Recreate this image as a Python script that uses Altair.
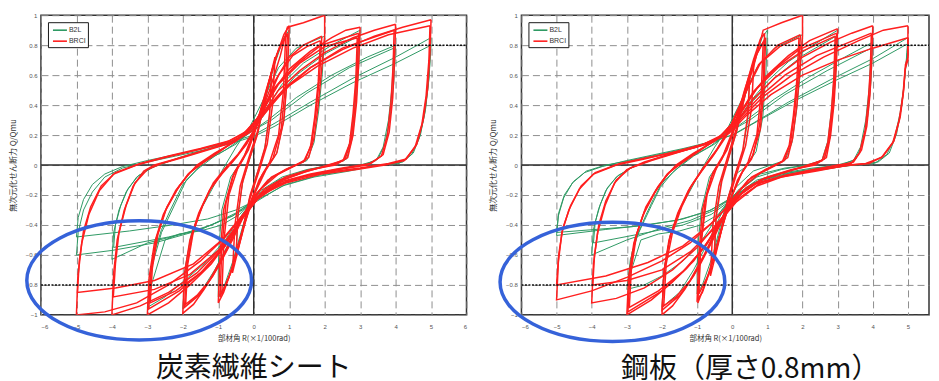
import altair as alt
import pandas as pd

GREEN = "#2f9a64"
RED = "#ff1f1f"
BLUE = "#3562d9"

SERIES = ["B2L", "BRCI"]
CAPTIONS = ["炭素繊維シート", "鋼板（厚さ0.8mm）"]
X_TICKS_LEFT = [-6, -5, -4, -3, -2, -1, 0, 1, 2, 3, 4, 5, 6]
X_TICKS_RIGHT = [-6, -5, -4, -3, -2, -1, 0, 1, 2, 3, 4, 5]
Y_TICKS = [1, 0.8, 0.6, 0.4, 0.2, 0, -0.2, -0.4, -0.6, -0.8, -1]
LIMIT_X = [0, -6]
LIMIT_X2 = [6, 0]
LIMIT_Y = [0.8, -0.8]
ELLIPSE_LEFT = (-3.23, -0.77)
ELLIPSE_RIGHT = (-3.41, -0.78)

# ---------------- left panel (carbon fibre sheet) ----------------
LEFT_B2L = [
    [(0.5,0.6),(0.44,0.32),(0.3,0.1),(0.1,-0.05),(-0.12,-0.22),(-0.32,-0.43),(-0.5,-0.6),(-0.45,-0.33),(-0.3,-0.1),(-0.1,0.05),(0.12,0.22),(0.32,0.43),(0.5,0.6)],
    [(1.0,0.9),(0.95,0.6),(0.85,0.3),(0.65,0.08),(0.35,-0.03),(0.05,-0.17),(-0.3,-0.4),(-0.6,-0.65),(-0.85,-0.82),(-1.0,-0.88),(-1.0,-0.7),(-0.98,-0.55),(-0.9,-0.3),(-0.65,-0.08),(-0.3,0.04),(0.0,0.2),(0.3,0.43),(0.6,0.68),(0.85,0.85),(1.0,0.9)],
    [(2.0,0.86),(1.93,0.6),(1.83,0.36),(1.7,0.15),(1.5,0.03),(1.1,-0.01),(0.6,-0.07),(0.1,-0.18),(-0.3,-0.33),(-0.7,-0.52),(-1.1,-0.7),(-1.5,-0.85),(-2.0,-0.96),(-1.93,-0.68),(-1.75,-0.45),(-1.45,-0.28),(-1.15,-0.15),(-0.85,-0.02),(-0.5,0.12),(-0.1,0.26),(0.3,0.45),(0.7,0.65),(1.2,0.78),(2.0,0.86)],
    [(3.0,0.9),(2.96,0.65),(2.88,0.4),(2.78,0.18),(2.62,0.04),(2.2,0.0),(1.5,-0.03),(0.8,-0.08),(0.2,-0.17),(-0.3,-0.32),(-0.8,-0.5),(-1.4,-0.66),(-2.0,-0.78),(-2.5,-0.88),(-3.0,-0.95),(-2.9,-0.7),(-2.6,-0.45),(-2.3,-0.3),(-1.9,-0.1),(-1.4,0.02),(-0.8,0.1),(-0.2,0.2),(0.3,0.36),(0.8,0.54),(1.4,0.68),(2.2,0.8),(3.0,0.9)],
    [(2.95,0.86),(2.9,0.6),(2.82,0.36),(2.72,0.16),(2.55,0.03),(2.1,0.0),(1.4,-0.04),(0.7,-0.1),(0.1,-0.2),(-0.4,-0.33),(-0.9,-0.4),(-1.5,-0.44),(-2.1,-0.46),(-2.5,-0.5),(-2.95,-0.85),(-2.85,-0.62),(-2.6,-0.43),(-2.35,-0.3),(-2.0,-0.13),(-1.6,-0.03),(-1.1,0.06),(-0.5,0.14),(0.1,0.27),(0.6,0.44),(1.2,0.6),(2.0,0.74),(2.95,0.86)],
    [(4.0,0.8),(3.95,0.55),(3.85,0.32),(3.7,0.14),(3.5,0.04),(3.1,0.0),(2.3,-0.03),(1.5,-0.07),(0.7,-0.13),(0.1,-0.22),(-0.5,-0.32),(-1.2,-0.4),(-2.0,-0.46),(-3.0,-0.52),(-4.0,-0.63),(-3.95,-0.45),(-3.8,-0.3),(-3.6,-0.18),(-3.3,-0.08),(-2.9,-0.02),(-2.2,0.04),(-1.5,0.09),(-0.8,0.14),(-0.2,0.2),(0.4,0.3),(1.2,0.45),(2.2,0.6),(3.2,0.72),(4.0,0.8)],
    [(3.95,0.78),(3.9,0.52),(3.8,0.3),(3.65,0.12),(3.45,0.03),(3.0,0.0),(2.2,-0.04),(1.4,-0.08),(0.6,-0.14),(0.0,-0.24),(-0.6,-0.34),(-1.4,-0.42),(-2.4,-0.48),(-3.95,-0.55),(-3.9,-0.4),(-3.75,-0.27),(-3.55,-0.16),(-3.25,-0.07),(-2.8,-0.01),(-2.1,0.05),(-1.4,0.1),(-0.7,0.15),(-0.1,0.22),(0.5,0.3),(1.5,0.48),(2.7,0.65),(3.95,0.78)],
    [(5.0,0.85),(4.95,0.6),(4.85,0.38),(4.7,0.2),(4.5,0.08),(4.2,0.02),(3.6,0.0),(2.8,-0.03),(1.8,-0.07),(0.9,-0.13),(0.2,-0.22),(-0.5,-0.3),(-1.3,-0.36),(-2.3,-0.4),(-3.5,-0.44),(-5.0,-0.48),(-4.95,-0.35),(-4.8,-0.23),(-4.55,-0.13),(-4.2,-0.06),(-3.7,-0.01),(-3.0,0.03),(-2.2,0.07),(-1.4,0.11),(-0.7,0.15),(0.0,0.2),(0.6,0.28),(1.6,0.42),(2.8,0.58),(4.0,0.72),(5.0,0.85)],
    [(5.0,0.8),(4.93,0.55),(4.82,0.34),(4.67,0.18),(4.45,0.07),(4.1,0.01),(3.5,0.0),(2.7,-0.04),(1.7,-0.08),(0.8,-0.14),(0.1,-0.24),(-0.6,-0.34),(-1.6,-0.44),(-2.8,-0.52),(-4.0,-0.57),(-5.0,-0.6),(-4.95,-0.45),(-4.8,-0.3),(-4.55,-0.18),(-4.2,-0.08),(-3.7,-0.02),(-3.0,0.02),(-2.2,0.06),(-1.4,0.1),(-0.7,0.14),(0.0,0.19),(0.6,0.26),(1.6,0.4),(2.8,0.55),(4.0,0.68),(5.0,0.8)],
]

LEFT_BRCI = [
    [(0.5,0.62),(0.45,0.35),(0.32,0.12),(0.12,-0.04),(-0.1,-0.2),(-0.3,-0.42),(-0.5,-0.62),(-0.45,-0.35),(-0.32,-0.12),(-0.12,0.04),(0.1,0.2),(0.3,0.42),(0.5,0.62)],
    [(0.6,0.72),(0.53,0.4),(0.38,0.14),(0.15,-0.04),(-0.1,-0.22),(-0.35,-0.48),(-0.6,-0.72),(-0.53,-0.4),(-0.38,-0.14),(-0.15,0.04),(0.1,0.22),(0.35,0.48),(0.6,0.72)],
    [(1.0,0.93),(0.95,0.6),(0.85,0.3),(0.65,0.08),(0.35,-0.03),(0.05,-0.18),(-0.3,-0.42),(-0.6,-0.68),(-0.85,-0.85),(-1.0,-0.92),(-0.95,-0.6),(-0.85,-0.3),(-0.6,-0.08),(-0.3,0.04),(0.0,0.2),(0.3,0.45),(0.6,0.7),(0.85,0.87),(1.0,0.93)],
    [(0.95,0.88),(0.9,0.55),(0.78,0.25),(0.55,0.05),(0.25,-0.06),(-0.05,-0.22),(-0.35,-0.48),(-0.65,-0.72),(-0.95,-0.88),(-0.9,-0.55),(-0.78,-0.25),(-0.55,-0.05),(-0.25,0.07),(0.05,0.25),(0.35,0.5),(0.65,0.74),(0.95,0.88)],
    [(0.9,0.86),(0.84,0.5),(0.7,0.2),(0.45,0.02),(0.15,-0.1),(-0.15,-0.3),(-0.45,-0.55),(-0.7,-0.75),(-0.9,-0.86),(-0.84,-0.5),(-0.7,-0.2),(-0.45,-0.02),(-0.15,0.1),(0.15,0.3),(0.45,0.57),(0.7,0.77),(0.9,0.86)],
    [(2.0,1.0),(2.0,0.86),(1.92,0.65),(1.82,0.4),(1.7,0.18),(1.55,0.05),(1.2,0.0),(0.7,-0.06),(0.2,-0.16),(-0.2,-0.3),(-0.6,-0.5),(-1.0,-0.68),(-1.4,-0.83),(-1.7,-0.93),(-2.0,-0.99),(-1.95,-0.72),(-1.8,-0.5),(-1.55,-0.32),(-1.25,-0.17),(-0.9,-0.06),(-0.6,0.02),(-0.2,0.14),(0.1,0.28),(0.45,0.5),(0.75,0.73),(0.95,0.92),(1.4,0.95),(2.0,1.0)],
    [(1.92,0.86),(1.86,0.6),(1.76,0.36),(1.64,0.15),(1.45,0.03),(1.0,-0.02),(0.5,-0.08),(0.05,-0.2),(-0.35,-0.36),(-0.75,-0.56),(-1.15,-0.74),(-1.55,-0.87),(-1.95,-0.95),(-1.9,-0.69),(-1.74,-0.47),(-1.5,-0.3),(-1.2,-0.15),(-0.85,-0.04),(-0.5,0.05),(-0.1,0.18),(0.25,0.34),(0.6,0.56),(1.0,0.72),(1.4,0.8),(1.92,0.86)],
    [(1.88,0.83),(1.82,0.56),(1.72,0.32),(1.6,0.12),(1.4,0.02),(0.9,-0.03),(0.4,-0.1),(-0.05,-0.23),(-0.45,-0.4),(-0.85,-0.6),(-1.25,-0.77),(-1.6,-0.87),(-1.92,-0.93),(-1.86,-0.66),(-1.7,-0.44),(-1.44,-0.27),(-1.14,-0.12),(-0.8,-0.02),(-0.45,0.07),(-0.05,0.21),(0.3,0.38),(0.7,0.6),(1.1,0.73),(1.5,0.79),(1.88,0.83)],
    [(3.0,0.92),(2.96,0.68),(2.9,0.42),(2.8,0.2),(2.65,0.05),(2.3,0.0),(1.6,-0.03),(0.9,-0.08),(0.3,-0.16),(-0.2,-0.3),(-0.7,-0.5),(-1.2,-0.66),(-1.8,-0.8),(-2.4,-0.92),(-3.0,-1.0),(-2.95,-0.75),(-2.8,-0.52),(-2.55,-0.33),(-2.2,-0.17),(-1.9,-0.08),(-1.6,0.0),(-1.1,0.08),(-0.5,0.16),(0.0,0.27),(0.5,0.48),(1.0,0.64),(1.6,0.76),(2.2,0.85),(2.6,0.9),(3.0,0.92)],
    [(2.96,0.88),(2.92,0.62),(2.85,0.38),(2.75,0.17),(2.58,0.04),(2.2,0.0),(1.5,-0.04),(0.8,-0.1),(0.2,-0.19),(-0.3,-0.34),(-0.8,-0.54),(-1.4,-0.7),(-2.1,-0.84),(-2.96,-0.96),(-2.9,-0.72),(-2.75,-0.49),(-2.5,-0.31),(-2.15,-0.16),(-1.85,-0.06),(-1.5,0.01),(-1.0,0.09),(-0.4,0.18),(0.1,0.31),(0.6,0.52),(1.2,0.67),(1.9,0.8),(2.96,0.88)],
    [(2.92,0.85),(2.88,0.58),(2.8,0.34),(2.7,0.14),(2.52,0.03),(2.1,0.0),(1.4,-0.05),(0.7,-0.11),(0.1,-0.21),(-0.4,-0.37),(-0.9,-0.56),(-1.5,-0.72),(-2.2,-0.84),(-2.92,-0.92),(-2.86,-0.69),(-2.7,-0.46),(-2.45,-0.28),(-2.1,-0.14),(-1.8,-0.05),(-1.4,0.02),(-0.9,0.1),(-0.3,0.2),(0.2,0.34),(0.7,0.54),(1.3,0.68),(2.0,0.79),(2.92,0.85)],
    [(4.0,0.94),(3.97,0.7),(3.92,0.45),(3.82,0.22),(3.65,0.07),(3.3,0.01),(2.5,-0.02),(1.6,-0.06),(0.8,-0.11),(0.2,-0.2),(-0.3,-0.35),(-0.9,-0.55),(-1.6,-0.72),(-2.4,-0.85),(-3.2,-0.94),(-4.0,-1.0),(-3.95,-0.72),(-3.85,-0.5),(-3.65,-0.3),(-3.4,-0.14),(-3.1,-0.04),(-2.8,0.0),(-2.2,0.04),(-1.5,0.09),(-0.8,0.14),(-0.2,0.21),(0.2,0.32),(0.7,0.5),(1.3,0.63),(2.0,0.75),(2.8,0.85),(3.4,0.9),(4.0,0.94)],
    [(3.96,0.9),(3.93,0.66),(3.87,0.42),(3.77,0.2),(3.6,0.06),(3.2,0.0),(2.4,-0.03),(1.5,-0.07),(0.7,-0.13),(0.1,-0.23),(-0.4,-0.38),(-1.0,-0.57),(-1.8,-0.73),(-2.8,-0.83),(-3.96,-0.88),(-3.9,-0.66),(-3.8,-0.45),(-3.6,-0.27),(-3.35,-0.12),(-3.0,-0.03),(-2.6,0.01),(-2.0,0.05),(-1.3,0.1),(-0.6,0.15),(-0.1,0.22),(0.3,0.34),(0.9,0.51),(1.6,0.65),(2.5,0.78),(3.96,0.9)],
    [(5.0,0.97),(4.97,0.75),(4.9,0.5),(4.78,0.3),(4.6,0.14),(4.3,0.04),(3.8,0.01),(3.0,-0.02),(2.0,-0.05),(1.0,-0.1),(0.3,-0.18),(-0.2,-0.3),(-0.8,-0.48),(-1.5,-0.64),(-2.4,-0.8),(-3.3,-0.92),(-4.2,-0.98),(-5.0,-1.0),(-4.96,-0.75),(-4.85,-0.52),(-4.65,-0.33),(-4.35,-0.17),(-3.95,-0.06),(-3.3,0.0),(-2.5,0.05),(-1.6,0.1),(-0.8,0.15),(-0.2,0.22),(0.3,0.36),(0.9,0.52),(1.6,0.65),(2.5,0.77),(3.4,0.86),(4.2,0.92),(5.0,0.97)],
    [(4.97,0.93),(4.94,0.7),(4.86,0.46),(4.74,0.27),(4.55,0.12),(4.25,0.03),(3.7,0.0),(2.9,-0.03),(1.9,-0.06),(0.9,-0.12),(0.2,-0.2),(-0.3,-0.33),(-0.9,-0.5),(-1.7,-0.66),(-2.8,-0.77),(-3.9,-0.82),(-4.97,-0.85),(-4.92,-0.64),(-4.8,-0.44),(-4.6,-0.28),(-4.3,-0.14),(-3.9,-0.05),(-3.2,0.01),(-2.4,0.06),(-1.5,0.11),(-0.7,0.16),(-0.1,0.24),(0.4,0.38),(1.0,0.53),(1.8,0.66),(2.8,0.78),(3.8,0.87),(4.97,0.93)],
]

# ---------------- right panel (steel plate 0.8 mm) ----------------
RIGHT_B2L = [
    [(0.5,0.58),(0.44,0.3),(0.3,0.09),(0.1,-0.05),(-0.12,-0.22),(-0.32,-0.42),(-0.5,-0.58),(-0.45,-0.31),(-0.3,-0.09),(-0.1,0.05),(0.12,0.22),(0.32,0.42),(0.5,0.58)],
    [(1.0,0.9),(0.96,0.62),(0.87,0.32),(0.68,0.09),(0.4,-0.01),(0.1,-0.06),(-0.2,-0.28),(-0.55,-0.6),(-0.85,-0.8),(-1.0,-0.86),(-1.0,-0.68),(-0.97,-0.52),(-0.88,-0.3),(-0.65,-0.08),(-0.3,0.04),(0.0,0.2),(0.3,0.44),(0.6,0.68),(0.85,0.85),(1.0,0.9)],
    [(2.0,0.87),(1.93,0.6),(1.83,0.36),(1.7,0.15),(1.5,0.03),(1.1,0.0),(0.6,-0.04),(0.1,-0.15),(-0.3,-0.32),(-0.7,-0.52),(-1.1,-0.7),(-1.5,-0.85),(-2.0,-0.95),(-1.93,-0.68),(-1.75,-0.45),(-1.45,-0.28),(-1.15,-0.15),(-0.85,-0.02),(-0.5,0.12),(-0.1,0.26),(0.3,0.45),(0.7,0.65),(1.2,0.78),(2.0,0.87)],
    [(3.0,0.9),(2.96,0.65),(2.88,0.4),(2.78,0.18),(2.62,0.04),(2.2,0.0),(1.5,-0.02),(0.8,-0.06),(0.2,-0.16),(-0.3,-0.3),(-0.8,-0.48),(-1.4,-0.64),(-2.0,-0.74),(-2.5,-0.8),(-3.0,-0.83),(-2.9,-0.63),(-2.7,-0.47),(-2.5,-0.37),(-2.3,-0.27),(-2.05,-0.15),(-1.7,-0.05),(-1.2,0.05),(-0.6,0.13),(0.0,0.24),(0.5,0.42),(1.0,0.56),(1.6,0.69),(2.3,0.8),(3.0,0.9)],
    [(2.95,0.86),(2.9,0.6),(2.82,0.36),(2.72,0.16),(2.55,0.03),(2.1,0.0),(1.4,-0.03),(0.7,-0.08),(0.1,-0.19),(-0.4,-0.33),(-0.9,-0.4),(-1.5,-0.44),(-2.1,-0.46),(-2.6,-0.5),(-2.95,-0.76),(-2.85,-0.58),(-2.65,-0.44),(-2.45,-0.33),(-2.25,-0.23),(-2.0,-0.12),(-1.6,-0.03),(-1.1,0.06),(-0.5,0.14),(0.1,0.27),(0.6,0.43),(1.2,0.58),(2.0,0.73),(2.95,0.86)],
    [(4.0,0.82),(3.95,0.56),(3.86,0.33),(3.72,0.15),(3.52,0.04),(3.1,0.0),(2.3,-0.02),(1.5,-0.05),(0.7,-0.1),(0.1,-0.2),(-0.5,-0.3),(-1.2,-0.37),(-2.0,-0.42),(-3.0,-0.5),(-4.0,-0.6),(-3.95,-0.43),(-3.8,-0.29),(-3.6,-0.17),(-3.3,-0.08),(-2.9,-0.02),(-2.2,0.04),(-1.5,0.09),(-0.8,0.14),(-0.2,0.2),(0.4,0.3),(1.2,0.44),(2.2,0.59),(3.2,0.72),(4.0,0.82)],
    [(3.95,0.78),(3.9,0.52),(3.8,0.3),(3.65,0.12),(3.45,0.03),(3.0,0.0),(2.2,-0.03),(1.4,-0.06),(0.6,-0.12),(0.0,-0.23),(-0.6,-0.33),(-1.4,-0.4),(-2.4,-0.45),(-3.95,-0.52),(-3.9,-0.38),(-3.75,-0.26),(-3.55,-0.15),(-3.25,-0.07),(-2.8,-0.01),(-2.1,0.05),(-1.4,0.1),(-0.7,0.15),(-0.1,0.22),(0.5,0.3),(1.5,0.47),(2.7,0.63),(3.95,0.78)],
    [(5.0,0.85),(4.97,0.75),(4.92,0.6),(4.83,0.4),(4.68,0.21),(4.47,0.08),(4.15,0.02),(3.5,0.0),(2.7,-0.02),(1.7,-0.05),(0.8,-0.1),(0.1,-0.2),(-0.6,-0.3),(-1.4,-0.36),(-2.4,-0.4),(-3.6,-0.43),(-5.0,-0.47),(-4.95,-0.34),(-4.8,-0.22),(-4.55,-0.12),(-4.2,-0.05),(-3.7,-0.01),(-3.0,0.03),(-2.2,0.07),(-1.4,0.11),(-0.7,0.15),(0.0,0.2),(0.6,0.28),(1.6,0.42),(2.8,0.57),(4.0,0.71),(5.0,0.85)],
    [(5.0,0.81),(4.95,0.68),(4.88,0.52),(4.78,0.35),(4.62,0.18),(4.4,0.07),(4.05,0.01),(3.4,0.0),(2.6,-0.03),(1.6,-0.06),(0.7,-0.11),(0.0,-0.22),(-0.7,-0.31),(-1.6,-0.37),(-2.8,-0.41),(-5.0,-0.45),(-4.94,-0.32),(-4.78,-0.2),(-4.52,-0.11),(-4.15,-0.04),(-3.6,0.0),(-2.9,0.03),(-2.1,0.07),(-1.3,0.11),(-0.6,0.15),(0.1,0.21),(0.7,0.29),(1.7,0.42),(2.9,0.56),(4.0,0.68),(5.0,0.81)],
]

RIGHT_BRCI = [
    [(0.5,0.6),(0.44,0.33),(0.3,0.1),(0.1,-0.05),(-0.12,-0.22),(-0.32,-0.44),(-0.52,-0.63),(-0.46,-0.35),(-0.3,-0.11),(-0.1,0.05),(0.12,0.22),(0.32,0.42),(0.5,0.6)],
    [(0.62,0.7),(0.55,0.38),(0.38,0.13),(0.15,-0.04),(-0.1,-0.23),(-0.37,-0.5),(-0.62,-0.74),(-0.55,-0.4),(-0.38,-0.14),(-0.15,0.04),(0.1,0.23),(0.36,0.47),(0.62,0.7)],
    [(0.92,0.88),(0.88,0.55),(0.78,0.27),(0.6,0.07),(0.3,-0.04),(0.0,-0.2),(-0.3,-0.42),(-0.6,-0.68),(-0.85,-0.85),(-1.0,-0.9),(-0.95,-0.6),(-0.85,-0.3),(-0.6,-0.08),(-0.3,0.04),(0.0,0.2),(0.3,0.45),(0.6,0.7),(0.8,0.84),(0.92,0.88)],
    [(0.95,0.85),(0.9,0.5),(0.8,0.24),(0.55,0.04),(0.25,-0.06),(-0.05,-0.23),(-0.35,-0.47),(-0.65,-0.72),(-0.95,-0.86),(-0.9,-0.55),(-0.78,-0.25),(-0.55,-0.05),(-0.25,0.07),(0.05,0.25),(0.35,0.5),(0.65,0.72),(0.95,0.85)],
    [(0.88,0.82),(0.83,0.5),(0.7,0.2),(0.45,0.02),(0.15,-0.1),(-0.15,-0.3),(-0.45,-0.55),(-0.75,-0.78),(-0.98,-0.92),(-0.9,-0.55),(-0.72,-0.2),(-0.45,-0.02),(-0.15,0.1),(0.15,0.3),(0.45,0.56),(0.7,0.74),(0.88,0.82)],
    [(2.0,1.0),(2.0,0.86),(1.93,0.65),(1.84,0.4),(1.72,0.18),(1.58,0.05),(1.25,0.0),(0.75,-0.06),(0.25,-0.16),(-0.15,-0.3),(-0.55,-0.5),(-0.95,-0.68),(-1.35,-0.83),(-1.7,-0.94),(-2.0,-1.0),(-1.95,-0.72),(-1.8,-0.5),(-1.55,-0.32),(-1.25,-0.17),(-0.9,-0.05),(-0.55,0.06),(-0.15,0.2),(0.25,0.4),(0.6,0.65),(0.88,0.9),(1.4,0.95),(2.0,1.0)],
    [(1.94,0.87),(1.88,0.6),(1.78,0.36),(1.66,0.15),(1.48,0.03),(1.05,-0.02),(0.55,-0.08),(0.1,-0.2),(-0.3,-0.36),(-0.7,-0.56),(-1.1,-0.74),(-1.5,-0.87),(-2.0,-0.97),(-1.93,-0.69),(-1.76,-0.47),(-1.5,-0.3),(-1.2,-0.15),(-0.85,-0.03),(-0.5,0.08),(-0.1,0.23),(0.3,0.44),(0.75,0.67),(1.3,0.8),(1.94,0.87)],
    [(1.9,0.85),(1.84,0.57),(1.74,0.33),(1.62,0.13),(1.42,0.02),(0.95,-0.03),(0.45,-0.1),(0.0,-0.23),(-0.4,-0.4),(-0.8,-0.6),(-1.2,-0.77),(-1.6,-0.88),(-1.95,-0.94),(-1.88,-0.66),(-1.7,-0.45),(-1.44,-0.28),(-1.14,-0.13),(-0.8,-0.01),(-0.45,0.1),(-0.05,0.26),(0.35,0.47),(0.8,0.68),(1.35,0.79),(1.9,0.85)],
    [(3.0,0.91),(2.96,0.66),(2.9,0.42),(2.8,0.2),(2.68,0.05),(2.35,0.0),(1.7,-0.03),(1.0,-0.08),(0.4,-0.15),(-0.1,-0.28),(-0.6,-0.48),(-1.1,-0.64),(-1.7,-0.78),(-2.3,-0.9),(-3.0,-1.0),(-2.95,-0.75),(-2.8,-0.52),(-2.55,-0.34),(-2.2,-0.18),(-1.9,-0.08),(-1.6,0.0),(-1.1,0.08),(-0.5,0.16),(0.0,0.26),(0.5,0.45),(1.0,0.6),(1.6,0.73),(2.2,0.83),(3.0,0.91)],
    [(2.97,0.88),(2.93,0.62),(2.86,0.38),(2.76,0.17),(2.62,0.04),(2.25,0.0),(1.6,-0.04),(0.9,-0.09),(0.3,-0.18),(-0.2,-0.32),(-0.7,-0.52),(-1.3,-0.69),(-2.0,-0.84),(-2.97,-0.98),(-2.91,-0.72),(-2.76,-0.49),(-2.5,-0.31),(-2.15,-0.16),(-1.85,-0.06),(-1.5,0.01),(-1.0,0.09),(-0.4,0.18),(0.1,0.3),(0.6,0.49),(1.2,0.64),(1.9,0.77),(2.97,0.88)],
    [(2.93,0.86),(2.89,0.58),(2.82,0.35),(2.72,0.15),(2.56,0.03),(2.15,0.0),(1.5,-0.05),(0.8,-0.1),(0.2,-0.2),(-0.3,-0.36),(-0.8,-0.55),(-1.4,-0.71),(-2.1,-0.84),(-2.93,-0.95),(-2.87,-0.69),(-2.72,-0.46),(-2.46,-0.28),(-2.1,-0.14),(-1.8,-0.05),(-1.4,0.02),(-0.9,0.1),(-0.3,0.2),(0.2,0.33),(0.7,0.51),(1.3,0.65),(2.0,0.76),(2.93,0.86)],
    [(4.0,0.93),(3.97,0.7),(3.92,0.47),(3.83,0.26),(3.68,0.1),(3.45,0.02),(3.1,0.0),(2.3,-0.03),(1.5,-0.07),(0.8,-0.12),(0.2,-0.22),(-0.4,-0.38),(-1.0,-0.55),(-1.7,-0.7),(-2.5,-0.82),(-3.3,-0.89),(-4.0,-0.92),(-3.95,-0.66),(-3.83,-0.45),(-3.62,-0.27),(-3.35,-0.12),(-3.0,-0.03),(-2.5,0.02),(-1.8,0.07),(-1.0,0.12),(-0.4,0.18),(0.1,0.28),(0.6,0.44),(1.2,0.58),(2.0,0.72),(2.8,0.82),(3.4,0.88),(4.0,0.93)],
    [(3.96,0.88),(3.93,0.64),(3.87,0.42),(3.78,0.23),(3.62,0.08),(3.38,0.01),(3.0,0.0),(2.2,-0.04),(1.4,-0.08),(0.7,-0.14),(0.1,-0.25),(-0.5,-0.42),(-1.2,-0.58),(-2.0,-0.7),(-3.0,-0.77),(-3.97,-0.8),(-3.92,-0.6),(-3.8,-0.4),(-3.6,-0.24),(-3.3,-0.1),(-2.9,-0.02),(-2.3,0.03),(-1.6,0.08),(-0.9,0.13),(-0.3,0.2),(0.2,0.31),(0.8,0.46),(1.5,0.6),(2.4,0.73),(3.96,0.88)],
    [(5.0,0.93),(5.0,0.72),(4.93,0.67),(4.88,0.5),(4.78,0.32),(4.6,0.16),(4.3,0.06),(3.9,0.01),(3.4,0.0),(2.5,-0.03),(1.5,-0.07),(0.7,-0.12),(0.1,-0.22),(-0.5,-0.37),(-1.2,-0.52),(-2.0,-0.64),(-3.0,-0.75),(-4.0,-0.84),(-5.0,-0.9),(-4.95,-0.65),(-4.85,-0.45),(-4.65,-0.3),(-4.35,-0.16),(-3.95,-0.06),(-3.3,0.0),(-2.5,0.04),(-1.6,0.09),(-0.8,0.14),(-0.2,0.2),(0.3,0.32),(0.9,0.46),(1.7,0.6),(2.6,0.72),(3.6,0.83),(4.3,0.9),(5.0,0.93)],
    [(5.0,0.85),(5.0,0.7),(4.92,0.64),(4.86,0.47),(4.75,0.3),(4.57,0.15),(4.25,0.05),(3.8,0.01),(3.3,0.0),(2.4,-0.04),(1.4,-0.08),(0.6,-0.13),(0.0,-0.24),(-0.6,-0.39),(-1.4,-0.54),(-2.4,-0.65),(-3.6,-0.74),(-5.0,-0.8),(-4.94,-0.6),(-4.82,-0.42),(-4.6,-0.27),(-4.3,-0.14),(-3.9,-0.05),(-3.2,0.01),(-2.4,0.05),(-1.5,0.09),(-0.7,0.14),(-0.1,0.21),(0.4,0.33),(1.1,0.47),(2.0,0.6),(3.0,0.7),(4.0,0.78),(5.0,0.85)],
]

ELLIPSE_PATH = "M -1 0 A 1 0.53 0 1 1 1 0 A 1 0.53 0 1 1 -1 0 Z"
LEGEND_LINE = "M -1.4 0 L 1.4 0"


def loops_frame(loops, series):
    rows = []
    for k, loop in enumerate(loops):
        for j, (x, y) in enumerate(loop):
            rows.append({"series": series, "loop": k, "step": j, "x": x, "y": y})
    return pd.DataFrame(rows)


def panel(b2l, brci, xmax, width, xticks, ellipse, caption, caption_dx):
    xs = alt.Scale(domain=[-6, xmax], nice=False, zero=False)
    ys = alt.Scale(domain=[-1, 1], nice=False, zero=False)
    x_axis = alt.Axis(values=xticks, format="d", title="部材角 R(×1/100rad)",
                      titleFont="Noto Sans CJK JP", titleFontSize=7.5, titleFontWeight="normal",
                      titleColor="#333", titlePadding=5,
                      labelFont="Liberation Sans", labelFontSize=6, labelColor="#555",
                      labelPadding=9, ticks=False, domain=False,
                      grid=True, gridDash=[7, 4], gridColor="#8f8f8f", gridWidth=1, gridOpacity=1)
    y_axis = alt.Axis(values=Y_TICKS, format="~g", title="無次元化せん断力 Q/Qmu",
                      titleFont="Noto Sans CJK JP", titleFontSize=8, titleFontWeight="normal",
                      titleColor="#333", titlePadding=8,
                      labelFont="Liberation Sans", labelFontSize=6, labelColor="#555",
                      labelPadding=4, ticks=False, domain=False,
                      grid=True, gridDash=[7, 4], gridColor="#8f8f8f", gridWidth=1, gridOpacity=1)
    X = alt.X("x:Q", scale=xs, axis=x_axis)
    Y = alt.Y("y:Q", scale=ys, axis=y_axis)
    legend = alt.Legend(title=None, orient="none", legendX=7, legendY=7, direction="vertical",
                        symbolType=LEGEND_LINE, symbolSize=100, symbolStrokeWidth=1.6,
                        symbolOffset=4, labelOffset=3,
                        labelFont="Liberation Sans", labelFontSize=7, labelColor="#333",
                        padding=2, rowPadding=1,
                        strokeColor="#1a1a1a", fillColor="white")
    color = alt.Color("series:N", scale=alt.Scale(domain=SERIES, range=[GREEN, RED]), legend=legend)

    vzero = alt.Chart(pd.DataFrame({"x": [0]})).mark_rule(color="#2b2b2b", strokeWidth=1.4).encode(x=X)
    hzero = alt.Chart(pd.DataFrame({"y": [0]})).mark_rule(color="#2b2b2b", strokeWidth=1.4).encode(y=Y)

    green = alt.Chart(loops_frame(b2l, SERIES[0])).mark_line(strokeWidth=1.0, clip=True).encode(
        x=X, y=Y, color=color, detail="loop:N", order="step:Q")
    red = alt.Chart(loops_frame(brci, SERIES[1])).mark_line(strokeWidth=1.5, clip=True).encode(
        x=X, y=Y, color=color, detail="loop:N", order="step:Q")

    limits = alt.Chart(pd.DataFrame({"x": LIMIT_X, "x2": LIMIT_X2, "y": LIMIT_Y})).mark_rule(
        color="#111", strokeWidth=1.5, strokeDash=[2, 1.5], clip=True).encode(x=X, x2="x2:Q", y=Y)

    ell = alt.Chart(pd.DataFrame({"x": [ellipse[0]], "y": [ellipse[1]]})).mark_point(
        shape=ELLIPSE_PATH, size=50625, filled=False, color=BLUE, strokeWidth=3.5,
        opacity=1, clip=False).encode(x=X, y=Y)

    return alt.layer(vzero, hzero, green, red, limits, ell).properties(
        width=width, height=300,
        title=alt.TitleParams(text=caption, orient="bottom", anchor="middle", frame="group",
                              font="Noto Sans CJK JP", fontSize=28, fontWeight="normal",
                              color="#111", offset=8, dx=caption_dx))


left = panel(LEFT_B2L, LEFT_BRCI, 6, 426, X_TICKS_LEFT, ELLIPSE_LEFT, CAPTIONS[0], 0)
right = panel(RIGHT_B2L, RIGHT_BRCI, 5.6, 408, X_TICKS_RIGHT, ELLIPSE_RIGHT, CAPTIONS[1], 25)

chart = alt.hconcat(left, right, spacing=55, bounds="flush").resolve_scale(
    x="independent", y="independent", color="independent"
).resolve_legend(color="independent").properties(
    padding={"left": 0, "top": 3, "right": 0, "bottom": 0}
).configure_view(stroke="#333", strokeWidth=1.5)

chart.save("out.html", embed_options={"renderer": "svg", "actions": False})
